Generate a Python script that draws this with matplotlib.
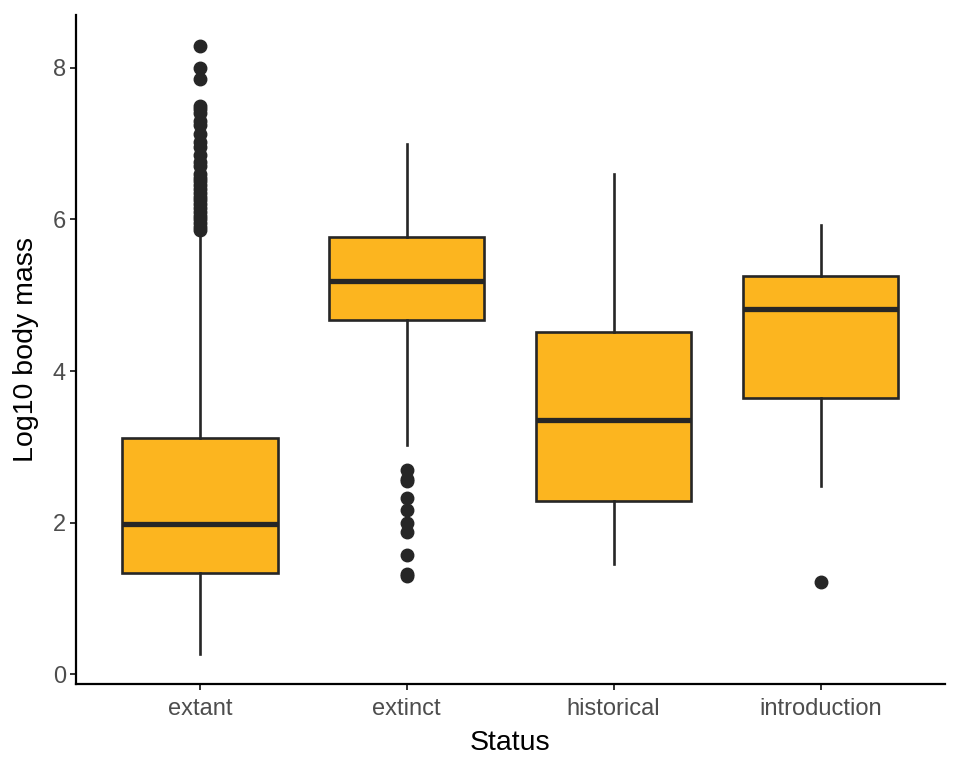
import matplotlib
matplotlib.use("Agg")
import matplotlib.pyplot as plt

plt.rcParams['font.family'] = ['Liberation Sans', 'DejaVu Sans']

# summary stats (log10 body mass)
status = ["extant", "extinct", "historical", "introduction"]
q1 = [1.34, 4.67, 2.29, 3.64]
median = [1.98, 5.19, 3.35, 4.82]
q3 = [3.12, 5.77, 4.52, 5.25]
whis_lo = [0.27, 3.03, 1.46, 2.48]
whis_hi = [5.83, 7.00, 6.60, 5.92]
fliers_extant = [8.28, 8.00, 7.85, 7.50, 7.45, 7.40, 7.30, 7.25, 7.12, 7.02,
                 6.95, 6.85, 6.75, 6.70, 6.60, 6.55, 6.50, 6.45, 6.40, 6.35,
                 6.30, 6.25, 6.20, 6.15, 6.10, 6.05, 6.00, 5.95, 5.90, 5.86]
fliers_extinct = [2.70, 2.58, 2.55, 2.32, 2.17, 2.00, 1.88, 1.57, 1.33, 1.30]
fliers_historical = []
fliers_introduction = [1.22]
fliers = [fliers_extant, fliers_extinct, fliers_historical, fliers_introduction]

FILL = "#FCB51F"
EDGE = "#262626"

stats = []
for i, lab in enumerate(status):
    stats.append(dict(label=lab, q1=q1[i], med=median[i], q3=q3[i],
                      whislo=whis_lo[i], whishi=whis_hi[i], fliers=fliers[i]))

fig = plt.figure(figsize=(9.6, 7.68), dpi=100)
ax = fig.add_axes([0.079, 0.109, 0.905, 0.871])

ax.bxp(stats, positions=range(1, 5), widths=0.75, patch_artist=True,
       showcaps=False,
       boxprops=dict(facecolor=FILL, edgecolor=EDGE, linewidth=1.9),
       medianprops=dict(color=EDGE, linewidth=3.8, solid_capstyle="butt"),
       whiskerprops=dict(color=EDGE, linewidth=1.9),
       flierprops=dict(marker="o", markerfacecolor=EDGE, markeredgecolor=EDGE,
                       markersize=9, linestyle="none"))

ax.set_xlim(0.4, 4.6)
ax.set_ylim(-0.13, 8.69)
ax.set_yticks([0, 2, 4, 6, 8])
ax.set_xticks(range(1, 5))
ax.set_xticklabels(status)

for s in ("top", "right"):
    ax.spines[s].set_visible(False)
for s in ("left", "bottom"):
    ax.spines[s].set_linewidth(1.6)
    ax.spines[s].set_color("black")

ax.tick_params(axis="both", labelsize=17, labelcolor="#4d4d4d", color="#333333",
               length=4, width=1.4, pad=4)
ax.tick_params(axis="x", pad=6)
ax.tick_params(axis="y", pad=3)
ax.set_xlabel("Status", fontsize=20.5, labelpad=7)
ax.set_ylabel("Log10 body mass", fontsize=20.5, labelpad=10)

fig.savefig("out.png", dpi=100)
